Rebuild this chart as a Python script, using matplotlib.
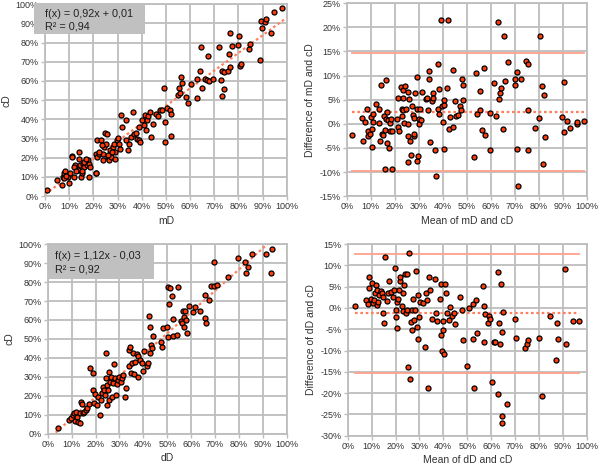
import numpy as np
import matplotlib.pyplot as plt
from matplotlib.patches import Rectangle

plt.rcParams['font.family'] = ['Liberation Sans', 'DejaVu Sans']

# --- data, all values in percent ---
md = [1, 5, 7, 7.3, 8, 8.4, 8.7, 9.4, 10, 10.5, 11, 11.8, 12.6, 13.5, 14, 14.2, 14.5, 14.8,
      15.3, 15.6, 16.3, 16.7, 17.3, 17.7, 18, 18.4, 18.7, 21, 21, 21.4, 21.4, 22.5, 23, 24,
      24, 24.6, 25, 25.3, 25.7, 26, 26.4, 26.7, 27, 27.4, 28, 28.5, 28.8, 29, 29.7, 30, 30.8,
      31, 31.4, 32, 33.3, 33.6, 34.3, 34.7, 35.7, 36.4, 37, 37.8, 38, 38.7, 39, 39.4, 40.2,
      40.8, 41.2, 41.6, 42, 42.6, 43.3, 44, 44.7, 45.8, 46.7, 47.4, 48.3, 49.4, 49.5, 49.8,
      50.5, 51.9, 52.3, 52.3, 54.8, 55.3, 55.7, 56.2, 56.5, 58.5, 59, 60.2, 62.7, 62.7, 64,
      64.6, 65.1, 66, 66.8, 67.5, 67.9, 69.6, 71.8, 72.8, 73, 73.4, 74, 74.1, 75.5, 75.9,
      76.5, 76.5, 77.2, 79.7, 80.3, 80.6, 81, 84.5, 84.8, 89, 89.2, 89.6, 91, 91.4, 93.4,
      94.9, 98, 7.7, 8.7, 12.2, 12.9, 16.3, 17, 21.2, 22.5, 23.7, 26, 27.8, 15.4, 11.2]
cd1 = [3, 8.3, 6, 10, 12, 13, 10.6, 10, 7, 12, 21, 10, 16, 13.5, 23, 19.6, 16, 10, 12, 17,
       15.3, 18, 16, 19, 10, 17, 15.3, 12, 22, 29, 20.5, 22, 29, 19, 22, 25.7, 33, 27.4, 32.6,
       20.5, 19, 22, 24, 20.5, 25.7, 27.4, 23, 19.6, 29, 30.5, 27.4, 24.8, 42.5, 36, 29.5,
       39.6, 24, 27.4, 31, 44, 32.6, 33, 30, 29, 36, 28.3, 39.6, 37, 42.2, 34.4, 39.6, 42,
       44, 31, 37.8, 43, 42, 44.8, 45, 56.6, 38.4, 28.3, 45.7, 44.8, 43, 31.3, 52.6, 56.6,
       53.8, 62.2, 58.7, 51.7, 48.3, 58.2, 61, 50.9, 65, 77.8, 56.6, 61, 60.4, 73, 60, 61,
       77.8, 60.4, 65.3, 52.3, 64.8, 56, 65, 73.8, 85.2, 67.4, 78.3, 78.6, 83.5, 67.9, 68.8,
       76.9, 79.2, 70.8, 91.1, 87.8, 90.8, 92.5, 85.2, 95.7, 97.9, 9.7, 10.4, 15.3, 13.2,
       17.9, 19.6, 11.8, 23.1, 26.6, 21.4, 23.1, 13.2, 20.5]

mean1 = [2.1, 6.4, 6.7, 7.6, 8.3, 8.8, 9, 9.7, 10, 10.3, 10.4, 10.8, 11.1, 12.2, 13.5, 13.6,
         13.9, 14.2, 14.6, 15, 15.6, 16, 16, 16.4, 16.4, 16.7, 16.9, 17.1, 17.4, 17.8, 18,
         18.3, 18.8, 19, 20.8, 21.3, 21.5, 21.8, 22.5, 22.8, 23, 23.3, 23.3, 23.6, 23.9, 24.4,
         24.7, 25.3, 25.4, 25.3, 25.7, 26.1, 26.4, 26.7, 27.1, 27.5, 27.8, 28, 28.2, 28.5,
         29.2, 29.4, 29.4, 29.7, 29.9, 30, 30.3, 30.8, 31.3, 33, 33.6, 34, 34.3, 34.3, 34.7,
         35.4, 35.8, 36.1, 36.8, 37.2, 37.8, 38.2, 38.3, 38.6, 39.3, 39.6, 40, 40.3, 40.6,
         40.6, 41.7, 42.1, 42.4, 42.8, 44.2, 44.2, 45.1, 45.6, 46.5, 47.2, 47.6, 48.1, 48.6,
         48.6, 53.2, 53.8, 54.2, 55.3, 55.6, 56.3, 57.2, 57.6, 59.7, 59.7, 61.4, 62.2, 63.2,
         63.6, 63.9, 64.3, 65, 65.6, 66, 67.1, 69.9, 69.9, 70.8, 71.1, 71.5, 72.5, 74.7, 75.3,
         75.6, 75.7, 78.5, 79.9, 80.6, 81.5, 81.7, 82.3, 82.6, 89.6, 90.3, 90.7, 91.7, 93.1,
         95.8, 96.1, 98.9]
diff1 = [-2.4, 1.2, -3.5, 0.3, 3.1, -1.5, -2.6, -2.1, 1.4, -1, -4.8, 0.3, 2.1, 4.2, 0.1, 3.1,
         -3.5, 8, -2.1, -2.4, 1.7, -1.2, -9.3, 1, 9.1, -4, 2.4, 0.7, -5, 0.1, -1.4, 0.9, -9.3,
         -1.5, 0.9, -0.6, 5.4, -1.5, 7.6, 3.1, 1.7, 7.1, 5.4, 2.8, 0.2, 7.8, 3.1, -8, 0, -2.6,
         6.6, 5.1, -3.6, -6.4, 3.6, 1.9, -2.6, -2.2, 1.2, 6.4, 9.7, -7.8, 3.1, -6.6, 1, -0.1,
         3.1, 0.7, 6.6, 5.2, 5.3, 2.9, 10.9, 9.3, -3.8, 4.8, 6.4, 5.4, -5.4, -10.9, 12.5, 3.1,
         2.1, 7.3, 21.6, 3.6, 0.3, 4, 5, -5.3, 7.5, 21.5, -1, 1.4, 11.2, -0.7, 4.7, 1.6, 1.9,
         3.6, 2.8, 9.3, 5, 8, -6.8, 10.5, 2.1, 2.8, 6.8, -1.2, 11.6, -2.3, 2.2, -5.5, 8.4, 1.7,
         21.1, 5.2, 6.4, 7.5, -1, 18.3, 8.9, 12.8, 9.3, 8.1, -5.2, 10.7, -12.9, 9.2, 13, 2.8,
         12.5, -5.5, -0.9, 1.2, 18.3, 7.8, -8.4, 6, -2.8, 1.5, 8.7, -1.6, 0.6, -0.9, -0.1, 0.3,
         0.6]

dd = [4.5, 9, 9.8, 10.5, 11, 11.4, 11.9, 12.1, 12.8, 13.3, 13.5, 13.8, 14.2, 14.6, 15.2, 16,
      16.6, 17.4, 17.7, 18.8, 18.8, 19.4, 19.8, 20.5, 21.2, 21.9, 22.2, 22.6, 23, 23.6, 24,
      24.3, 24.4, 24.7, 25, 25.4, 25.5, 25.8, 26.1, 26.5, 26.8, 27.5, 27.9, 28.2, 28.6, 28.9,
      29.6, 30, 30.5, 30.9, 31.7, 32.4, 32.8, 33.8, 34.2, 34.4, 34.7, 35.1, 35.8, 36.1, 36.5,
      37.2, 37.7, 37.9, 38.4, 39.3, 39.7, 40.3, 41.4, 42.1, 42.5, 42.7, 42.8, 43.1, 43.5,
      43.9, 47.3, 47.7, 48.4, 49.8, 50.2, 50.5, 50.9, 51.2, 51.9, 52.3, 52.6, 54, 54.7, 55.6,
      56.1, 56.5, 56.8, 57.1, 57.5, 57.9, 58.4, 58.9, 60.7, 61.6, 63.5, 65.8, 65.8, 66.1,
      67.6, 68.2, 69.6, 69.6, 70.7, 75.6, 79.5, 82.5, 82.8, 83.9, 85.6, 91.2, 93.3, 93.7]
cd2 = [3, 7.4, 8.2, 10, 11, 7, 11.7, 9.1, 6.5, 5.6, 11, 17, 15.8, 11, 11.8, 12.6, 13.5, 15.8,
       34.6, 32.3, 23.2, 16.1, 20.9, 15.3, 19.6, 10, 17.9, 21.4, 24.9, 23.2, 20.5, 42.8, 29.3,
       25.8, 15.3, 23.2, 32.8, 17.9, 27.5, 30.2, 19.6, 26.7, 36.8, 29.3, 20.5, 26.3, 28.4,
       30.2, 27.5, 29.3, 31, 19.3, 24, 35.8, 44.2, 45.6, 32.3, 37.5, 42.5, 31.6, 38, 42.1,
       30.2, 41, 39, 37.2, 33.3, 43.9, 35.8, 37.5, 62.1, 56.5, 42.5, 46.8, 45.1, 51.6, 48.6,
       45.6, 55.6, 56.5, 77.5, 50.9, 68.4, 76.7, 72.6, 60.4, 51.6, 52.1, 77.5, 59.6, 58.2,
       64.9, 56.5, 61.4, 64.9, 60, 53.3, 67.4, 64.4, 67, 64.9, 73.2, 60.9, 58.2, 70.5, 77.9,
       90.4, 77.9, 78.4, 82.8, 92.5, 90.7, 84.9, 88.1, 94.7, 94.7, 84.9, 97.4]

mean2 = [3.1, 7.7, 8.4, 8.9, 9, 9.8, 10, 10.5, 11, 11.4, 11.8, 12.1, 12.4, 12.8, 13.2, 13.8,
         14.2, 14.6, 14.9, 15.2, 15.8, 16.3, 17, 17.4, 18, 18.8, 19.4, 19.8, 20.1, 20.3, 20.5,
         20.8, 21.2, 21.6, 21.9, 21.9, 22.6, 23, 23.3, 23.6, 24, 24.4, 24.7, 25, 25.4, 25.8,
         26.1, 26.4, 26.8, 27.1, 27.5, 27.8, 28.2, 28.6, 28.9, 29.2, 29.4, 29.7, 30.3, 31.3,
         32.4, 32.8, 33.3, 33.7, 34.2, 34.5, 35.1, 36.5, 37, 37.5, 38.7, 39, 39.2, 39.3, 39.7,
         40, 40.3, 40.7, 41.1, 41.7, 42.5, 42.8, 43.5, 44.5, 45, 47, 48, 48.1, 49.8, 50.9,
         52.3, 52.6, 52.8, 53.6, 53.9, 56.5, 56.8, 57.2, 57.5, 58.5, 59.2, 59.6, 60.3, 61.2,
         61.8, 62.8, 63, 63.3, 63.7, 64, 64.4, 64.4, 64.7, 65.1, 66.8, 70, 70.4, 74.2, 74.9,
         75.6, 80.2, 81.2, 84.7, 87.1, 87.4, 87.8, 90.7, 91.4, 94.4, 96.9]
diff2 = [0.5, 1.9, 0.9, 4.6, 7.2, 2.2, 5.9, 1.2, 1.9, 3.4, 5.4, 0.7, 4.2, 1.4, 3, 4, 3.4,
         -1.1, 2.6, -3.6, 12, 1.7, 3.4, 6.3, 3.8, 2.6, 4.2, 9.4, -0.5, -2.2, -4.6, 1.4, 2.2,
         4.3, 6.4, 7.2, 0.4, -0.8, 3.5, 5.3, 7.9, -1.3, 8, -0.4, -13.8, 13, -16.8, -3.3, -5.2,
         -0.4, 2.1, -2.9, -0.5, 8.7, -4.4, -7.4, 3, -2.2, 1.4, 1.2, -9.1, 3.4, 1.8, -18.9,
         7.3, 4.3, -2.5, 6.7, -1.1, -3, 2.2, 5.6, -6.4, -10.1, -5.2, -3.1, -10.9, 5.6, 3.6,
         -1.1, -2.9, 0.3, -1.9, -1.1, -3.8, 2.5, -0.5, -7.6, -13.6, -0.1, -7.2, 0.9, -18.9,
         1.8, -6, 5.1, -8.1, 0.4, -1.4, -3.6, -1.9, -2.7, -17.5, -8, -8, 8.5, -20.2, -3.5,
         -8.5, 5.6, -25.3, -26.9, -5.6, -0.9, -22.6, -2.7, -7, -9.3, -8.5, -7.5, -7.1, -20.7,
         -1.9, -12.2, -3.5, -7.4, 9.1, -8.5, -3.1, -3]

# regression (slope, intercept as fractions) and Bland-Altman lines (percent)
fit1 = (0.92, 0.01)
fit2 = (1.12, -0.03)
ba1 = (2.4, 14.6, -9.8)
ba2 = (-1.3, 12.6, -15.2)

dot_face = '#ff3c0a'
trend_col = '#ff7f5e'
loa_col = '#ffa08c'
grid_col = '#bdbdbd'
W, H = 600, 467

fig = plt.figure(figsize=(6, 4.67), dpi=100)
ax1 = fig.add_axes([0.075, 0.580, 0.403, 0.411])
ax2 = fig.add_axes([0.578, 0.580, 0.400, 0.413])
ax3 = fig.add_axes([0.0795, 0.0707, 0.3985, 0.4068])
ax4 = fig.add_axes([0.5795, 0.067, 0.3985, 0.4105])


def style(ax, ylo, yhi, ystep, xlabel, ylabel):
    ax.set_xlim(0, 100)
    ax.set_ylim(ylo, yhi)
    xt = np.arange(0, 101, 10)
    yt = np.arange(ylo, yhi + 1, ystep)
    ax.set_xticks(xt)
    ax.set_xticklabels([f'{v}%' for v in xt])
    ax.set_yticks(yt)
    ax.set_yticklabels([f'{v}%' for v in yt])
    ax.grid(True, color=grid_col, linewidth=1.3)
    ax.set_axisbelow(True)
    for s in ax.spines.values():
        s.set_color(grid_col)
        s.set_linewidth(1.3)
    ax.tick_params(length=3, width=1.0, color=grid_col, labelsize=6.5, pad=1.5, labelcolor='#333333')
    ax.set_xlabel(xlabel, fontsize=7.5, color='#333333', labelpad=3)
    ax.set_ylabel(ylabel, fontsize=7.5, color='#333333', labelpad=3)


def scatter(ax, x, y):
    ax.scatter(x, y, s=13, c=dot_face, edgecolors='black', linewidths=0.9, zorder=3)


def eq_box(ax, box, tx, lines):
    # box = (x0, y0, x1, y1) in figure pixels from top-left
    x0, y0, x1, y1 = box
    ax.add_patch(Rectangle((x0 / W, 1 - y1 / H), (x1 - x0) / W, (y1 - y0) / H,
                           transform=fig.transFigure, facecolor='#c0c0c0', edgecolor='none',
                           clip_on=False, zorder=5))
    for ty, s in lines:
        ax.text(tx / W, 1 - ty / H, s, transform=fig.transFigure, fontsize=7.8,
                va='center', ha='left', color='#222222', zorder=6)


def regression(ax, x, y, fit):
    scatter(ax, x, y)
    xs = np.array([0, 100])
    ax.plot(xs, fit[0] * xs + fit[1] * 100, color=trend_col, linestyle=(0, (1.2, 1.2)),
            linewidth=1.6, zorder=2)


def bland(ax, x, y, ba):
    xs = [min(x), max(x)]
    ax.plot(xs, [ba[1]] * 2, color=loa_col, linewidth=1.3, zorder=2)
    ax.plot(xs, [ba[2]] * 2, color=loa_col, linewidth=1.3, zorder=2)
    ax.plot(xs, [ba[0]] * 2, color=trend_col, linestyle=(0, (1.2, 1.2)), linewidth=1.6, zorder=2)
    scatter(ax, x, y)


style(ax1, 0, 100, 10, 'mD', 'cD')
regression(ax1, md, cd1, fit1)
eq_box(ax1, (34, 3, 145, 34), 45, [(14, 'f(x) = 0,92x + 0,01'), (26.5, 'R² = 0,94')])

style(ax2, -15, 25, 5, 'Mean of mD and cD', 'Difference of mD and cD')
bland(ax2, mean1, diff1, ba1)

style(ax3, 0, 100, 10, 'dD', 'cD')
regression(ax3, dd, cd2, fit2)
eq_box(ax3, (49, 245, 154, 279), 55, [(256, 'f(x) = 1,12x - 0,03'), (269, 'R² = 0,92')])

style(ax4, -30, 15, 5, 'Mean of dD and cD', 'Difference of dD and cD')
bland(ax4, mean2, diff2, ba2)

fig.savefig('out.png', dpi=100)
